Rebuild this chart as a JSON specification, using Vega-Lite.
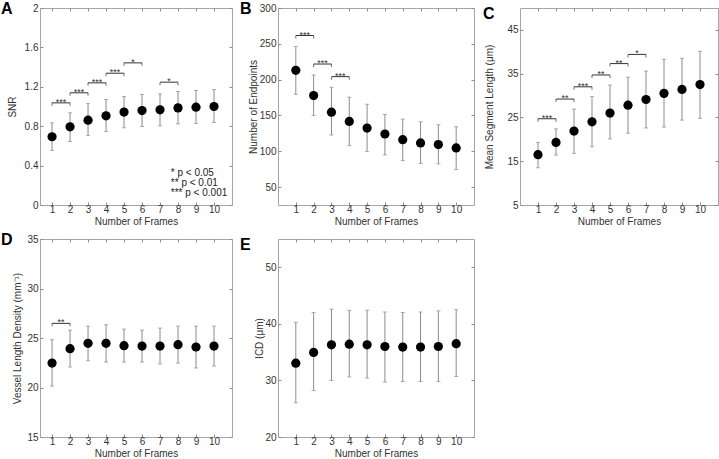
{
  "$schema": "https://vega.github.io/schema/vega-lite/v6.json",
  "padding": 0,
  "background": "white",
  "bounds": "flush",
  "columns": 3,
  "spacing": {"row": 34, "column": 46},
  "config": {
    "font": "Liberation Sans",
    "view": {"stroke": "#a6a6a6", "strokeWidth": 1},
    "axis": {
      "grid": false,
      "domain": false,
      "tickColor": "#8c8c8c",
      "tickSize": -3,
      "labelColor": "#333333",
      "labelFontSize": 10,
      "labelFont": "Liberation Sans",
      "labelPadding": 5,
      "titleFontSize": 10,
      "titleFont": "Liberation Sans",
      "titleFontWeight": "normal",
      "titleColor": "#333333"
    },
    "axisX": {"labelPadding": 2, "titlePadding": 2},
    "title": {"fontSize": 16, "fontWeight": "bold", "color": "#000000", "font": "Liberation Sans", "anchor": "start", "frame": "group", "offset": 0, "baseline": "alphabetic"}
  },
  "datasets": {
    "pts": [
      {"panel": "A", "frames": 1, "mean": 0.693, "lo": 0.554, "hi": 0.834},
      {"panel": "A", "frames": 2, "mean": 0.794, "lo": 0.645, "hi": 0.936},
      {"panel": "A", "frames": 3, "mean": 0.861, "lo": 0.706, "hi": 1.030},
      {"panel": "A", "frames": 4, "mean": 0.905, "lo": 0.747, "hi": 1.071},
      {"panel": "A", "frames": 5, "mean": 0.943, "lo": 0.784, "hi": 1.101},
      {"panel": "A", "frames": 6, "mean": 0.959, "lo": 0.797, "hi": 1.122},
      {"panel": "A", "frames": 7, "mean": 0.966, "lo": 0.804, "hi": 1.128},
      {"panel": "A", "frames": 8, "mean": 0.986, "lo": 0.824, "hi": 1.152},
      {"panel": "A", "frames": 9, "mean": 0.993, "lo": 0.828, "hi": 1.162},
      {"panel": "A", "frames": 10, "mean": 1.000, "lo": 0.838, "hi": 1.172},
      {"panel": "B", "frames": 1, "mean": 213.0, "lo": 179.6, "hi": 246.3},
      {"panel": "B", "frames": 2, "mean": 177.8, "lo": 150.0, "hi": 206.5},
      {"panel": "B", "frames": 3, "mean": 154.6, "lo": 122.7, "hi": 189.4},
      {"panel": "B", "frames": 4, "mean": 141.7, "lo": 107.9, "hi": 175.5},
      {"panel": "B", "frames": 5, "mean": 132.4, "lo": 99.5, "hi": 165.7},
      {"panel": "B", "frames": 6, "mean": 124.1, "lo": 94.9, "hi": 151.4},
      {"panel": "B", "frames": 7, "mean": 116.2, "lo": 87.0, "hi": 144.9},
      {"panel": "B", "frames": 8, "mean": 111.6, "lo": 82.9, "hi": 141.2},
      {"panel": "B", "frames": 9, "mean": 109.3, "lo": 82.4, "hi": 137.0},
      {"panel": "B", "frames": 10, "mean": 104.6, "lo": 74.5, "hi": 134.3},
      {"panel": "C", "frames": 1, "mean": 16.5, "lo": 13.5, "hi": 19.3},
      {"panel": "C", "frames": 2, "mean": 19.3, "lo": 16.4, "hi": 22.4},
      {"panel": "C", "frames": 3, "mean": 21.9, "lo": 16.8, "hi": 26.9},
      {"panel": "C", "frames": 4, "mean": 24.0, "lo": 18.3, "hi": 29.8},
      {"panel": "C", "frames": 5, "mean": 26.0, "lo": 20.1, "hi": 32.4},
      {"panel": "C", "frames": 6, "mean": 27.8, "lo": 21.4, "hi": 34.2},
      {"panel": "C", "frames": 7, "mean": 29.1, "lo": 22.6, "hi": 35.6},
      {"panel": "C", "frames": 8, "mean": 30.5, "lo": 22.8, "hi": 38.3},
      {"panel": "C", "frames": 9, "mean": 31.4, "lo": 24.4, "hi": 38.5},
      {"panel": "C", "frames": 10, "mean": 32.5, "lo": 24.8, "hi": 40.1},
      {"panel": "D", "frames": 1, "mean": 22.47, "lo": 20.15, "hi": 24.83},
      {"panel": "D", "frames": 2, "mean": 23.92, "lo": 22.07, "hi": 25.8},
      {"panel": "D", "frames": 3, "mean": 24.46, "lo": 22.7, "hi": 26.2},
      {"panel": "D", "frames": 4, "mean": 24.46, "lo": 22.57, "hi": 26.34},
      {"panel": "D", "frames": 5, "mean": 24.22, "lo": 22.57, "hi": 25.9},
      {"panel": "D", "frames": 6, "mean": 24.19, "lo": 22.57, "hi": 25.8},
      {"panel": "D", "frames": 7, "mean": 24.19, "lo": 22.37, "hi": 26.0},
      {"panel": "D", "frames": 8, "mean": 24.32, "lo": 22.47, "hi": 26.2},
      {"panel": "D", "frames": 9, "mean": 24.09, "lo": 21.97, "hi": 26.2},
      {"panel": "D", "frames": 10, "mean": 24.19, "lo": 22.17, "hi": 26.2},
      {"panel": "E", "frames": 1, "mean": 33.05, "lo": 26.05, "hi": 40.28},
      {"panel": "E", "frames": 2, "mean": 34.94, "lo": 28.2, "hi": 42.0},
      {"panel": "E", "frames": 3, "mean": 36.3, "lo": 30.0, "hi": 42.6},
      {"panel": "E", "frames": 4, "mean": 36.4, "lo": 30.6, "hi": 42.4},
      {"panel": "E", "frames": 5, "mean": 36.3, "lo": 30.4, "hi": 42.4},
      {"panel": "E", "frames": 6, "mean": 36.0, "lo": 29.7, "hi": 42.1},
      {"panel": "E", "frames": 7, "mean": 35.9, "lo": 29.8, "hi": 42.0},
      {"panel": "E", "frames": 8, "mean": 35.9, "lo": 29.8, "hi": 42.1},
      {"panel": "E", "frames": 9, "mean": 36.0, "lo": 29.8, "hi": 42.3},
      {"panel": "E", "frames": 10, "mean": 36.5, "lo": 30.7, "hi": 42.5}
    ],
    "brackets": [
      {"panel": "A", "x1": 1, "x2": 2, "xm": 1.5, "y": 1.037, "label": "***"},
      {"panel": "A", "x1": 2, "x2": 3, "xm": 2.5, "y": 1.139, "label": "***"},
      {"panel": "A", "x1": 3, "x2": 4, "xm": 3.5, "y": 1.240, "label": "***"},
      {"panel": "A", "x1": 4, "x2": 5, "xm": 4.5, "y": 1.338, "label": "***"},
      {"panel": "A", "x1": 5, "x2": 6, "xm": 5.5, "y": 1.443, "label": "*"},
      {"panel": "A", "x1": 7, "x2": 8, "xm": 7.5, "y": 1.247, "label": "*"},
      {"panel": "B", "x1": 1, "x2": 2, "xm": 1.5, "y": 261.6, "label": "***"},
      {"panel": "B", "x1": 2, "x2": 3, "xm": 2.5, "y": 221.8, "label": "***"},
      {"panel": "B", "x1": 3, "x2": 4, "xm": 3.5, "y": 204.2, "label": "***"},
      {"panel": "C", "x1": 1, "x2": 2, "xm": 1.5, "y": 24.7, "label": "***"},
      {"panel": "C", "x1": 2, "x2": 3, "xm": 2.5, "y": 29.2, "label": "**"},
      {"panel": "C", "x1": 3, "x2": 4, "xm": 3.5, "y": 32.0, "label": "***"},
      {"panel": "C", "x1": 4, "x2": 5, "xm": 4.5, "y": 34.7, "label": "**"},
      {"panel": "C", "x1": 5, "x2": 6, "xm": 5.5, "y": 37.3, "label": "**"},
      {"panel": "C", "x1": 6, "x2": 7, "xm": 6.5, "y": 39.4, "label": "*"},
      {"panel": "D", "x1": 1, "x2": 2, "xm": 1.5, "y": 26.48, "label": "**"}
    ],
    "legendA": [
      {"x": 7.6, "y": 0.328, "text": "* p < 0.05"},
      {"x": 7.6, "y": 0.226, "text": "** p < 0.01"},
      {"x": 7.6, "y": 0.125, "text": "*** p < 0.001"}
    ]
  },
  "concat": [
    {
      "width": 192, "height": 197,
      "title": {"text": "A", "dx": -39, "dy": 18},
      "resolve": {"axis": {"x": "independent", "y": "independent"}},
      "layer": [
        {"data": {"name": "pts"}, "transform": [{"filter": "datum.panel === 'A'"}], "mark": {"type": "rule", "color": "#8c8c8c", "strokeWidth": 1},
         "encoding": {"x": {"field": "frames", "type": "quantitative", "axis": null, "scale": {"domain": [0.33, 11], "nice": false, "zero": false}}, "y": {"field": "lo", "type": "quantitative", "axis": null, "scale": {"domain": [0, 2], "nice": false}}, "y2": {"field": "hi"}}},
        {"data": {"name": "pts"}, "transform": [{"filter": "datum.panel === 'A'"}, {"fold": ["lo", "hi"], "as": ["k", "v"]}], "mark": {"type": "tick", "orient": "horizontal", "color": "#8c8c8c", "size": 4, "thickness": 1},
         "encoding": {"x": {"field": "frames", "type": "quantitative", "axis": null}, "y": {"field": "v", "type": "quantitative", "axis": null}}},
        {"data": {"name": "pts"}, "transform": [{"filter": "datum.panel === 'A'"}], "mark": {"type": "circle", "color": "#000000", "opacity": 1, "size": 85},
         "encoding": {"x": {"field": "frames", "type": "quantitative", "title": "Number of Frames", "axis": {"values": [1,2,3,4,5,6,7,8,9,10]}}, "y": {"field": "mean", "type": "quantitative", "title": "SNR", "axis": {"values": [0, 0.4, 0.8, 1.2, 1.6, 2], "format": "~g", "titlePadding": 7}}}},
        {"data": {"name": "pts"}, "transform": [{"filter": "datum.panel === 'A'"}], "mark": {"type": "point", "opacity": 0},
         "encoding": {"x": {"field": "frames", "type": "quantitative", "axis": {"orient": "top", "labels": false, "title": null, "values": [1,2,3,4,5,6,7,8,9,10]}}, "y": {"field": "mean", "type": "quantitative", "axis": {"orient": "right", "labels": false, "title": null, "values": [0, 0.4, 0.8, 1.2, 1.6, 2]}}}},
        {"data": {"name": "brackets"}, "transform": [{"filter": "datum.panel === 'A'"}], "mark": {"type": "rule", "color": "#333333", "strokeWidth": 1},
         "encoding": {"x": {"field": "x1", "type": "quantitative", "axis": null}, "x2": {"field": "x2"}, "y": {"field": "y", "type": "quantitative", "axis": null}}},
        {"data": {"name": "brackets"}, "transform": [{"filter": "datum.panel === 'A'"}, {"fold": ["x1", "x2"], "as": ["k", "xe"]}], "mark": {"type": "tick", "orient": "vertical", "color": "#333333", "size": 3, "thickness": 1, "yOffset": 1.5},
         "encoding": {"x": {"field": "xe", "type": "quantitative", "axis": null}, "y": {"field": "y", "type": "quantitative", "axis": null}}},
        {"data": {"name": "brackets"}, "transform": [{"filter": "datum.panel === 'A'"}], "mark": {"type": "text", "color": "#333333", "fontSize": 9, "baseline": "alphabetic", "dy": 2},
         "encoding": {"x": {"field": "xm", "type": "quantitative", "axis": null}, "y": {"field": "y", "type": "quantitative", "axis": null}, "text": {"field": "label"}}},
        {"data": {"name": "legendA"}, "mark": {"type": "text", "color": "#222222", "fontSize": 10, "align": "left", "baseline": "middle"},
         "encoding": {"x": {"field": "x", "type": "quantitative", "axis": null}, "y": {"field": "y", "type": "quantitative", "axis": null}, "text": {"field": "text"}}}
      ]
    },
    {
      "width": 196, "height": 197,
      "title": {"text": "B", "dx": -38, "dy": 18},
      "resolve": {"axis": {"x": "independent", "y": "independent"}},
      "layer": [
        {"data": {"name": "pts"}, "transform": [{"filter": "datum.panel === 'B'"}], "mark": {"type": "rule", "color": "#8c8c8c", "strokeWidth": 1},
         "encoding": {"x": {"field": "frames", "type": "quantitative", "axis": null, "scale": {"domain": [0, 11], "nice": false, "zero": false}}, "y": {"field": "lo", "type": "quantitative", "axis": null, "scale": {"domain": [25, 300], "nice": false, "zero": false}}, "y2": {"field": "hi"}}},
        {"data": {"name": "pts"}, "transform": [{"filter": "datum.panel === 'B'"}, {"fold": ["lo", "hi"], "as": ["k", "v"]}], "mark": {"type": "tick", "orient": "horizontal", "color": "#8c8c8c", "size": 4, "thickness": 1},
         "encoding": {"x": {"field": "frames", "type": "quantitative", "axis": null}, "y": {"field": "v", "type": "quantitative", "axis": null}}},
        {"data": {"name": "pts"}, "transform": [{"filter": "datum.panel === 'B'"}], "mark": {"type": "circle", "color": "#000000", "opacity": 1, "size": 85},
         "encoding": {"x": {"field": "frames", "type": "quantitative", "title": "Number of Frames", "axis": {"values": [1,2,3,4,5,6,7,8,9,10]}}, "y": {"field": "mean", "type": "quantitative", "title": "Number of Endpoints", "axis": {"values": [50, 100, 150, 200, 250, 300], "titlePadding": 1}}}},
        {"data": {"name": "pts"}, "transform": [{"filter": "datum.panel === 'B'"}], "mark": {"type": "point", "opacity": 0},
         "encoding": {"x": {"field": "frames", "type": "quantitative", "axis": {"orient": "top", "labels": false, "title": null, "values": [1,2,3,4,5,6,7,8,9,10]}}, "y": {"field": "mean", "type": "quantitative", "axis": {"orient": "right", "labels": false, "title": null, "values": [50, 100, 150, 200, 250, 300]}}}},
        {"data": {"name": "brackets"}, "transform": [{"filter": "datum.panel === 'B'"}], "mark": {"type": "rule", "color": "#333333", "strokeWidth": 1},
         "encoding": {"x": {"field": "x1", "type": "quantitative", "axis": null}, "x2": {"field": "x2"}, "y": {"field": "y", "type": "quantitative", "axis": null}}},
        {"data": {"name": "brackets"}, "transform": [{"filter": "datum.panel === 'B'"}, {"fold": ["x1", "x2"], "as": ["k", "xe"]}], "mark": {"type": "tick", "orient": "vertical", "color": "#333333", "size": 3, "thickness": 1, "yOffset": 1.5},
         "encoding": {"x": {"field": "xe", "type": "quantitative", "axis": null}, "y": {"field": "y", "type": "quantitative", "axis": null}}},
        {"data": {"name": "brackets"}, "transform": [{"filter": "datum.panel === 'B'"}], "mark": {"type": "text", "color": "#333333", "fontSize": 9, "baseline": "alphabetic", "dy": 2},
         "encoding": {"x": {"field": "xm", "type": "quantitative", "axis": null}, "y": {"field": "y", "type": "quantitative", "axis": null}, "text": {"field": "label"}}}
      ]
    },
    {
      "width": 198, "height": 197,
      "title": {"text": "C", "dx": -37, "dy": 18},
      "resolve": {"axis": {"x": "independent", "y": "independent"}},
      "layer": [
        {"data": {"name": "pts"}, "transform": [{"filter": "datum.panel === 'C'"}], "mark": {"type": "rule", "color": "#8c8c8c", "strokeWidth": 1},
         "encoding": {"x": {"field": "frames", "type": "quantitative", "axis": null, "scale": {"domain": [0, 11], "nice": false, "zero": false}}, "y": {"field": "lo", "type": "quantitative", "axis": null, "scale": {"domain": [5, 50], "nice": false, "zero": false}}, "y2": {"field": "hi"}}},
        {"data": {"name": "pts"}, "transform": [{"filter": "datum.panel === 'C'"}, {"fold": ["lo", "hi"], "as": ["k", "v"]}], "mark": {"type": "tick", "orient": "horizontal", "color": "#8c8c8c", "size": 4, "thickness": 1},
         "encoding": {"x": {"field": "frames", "type": "quantitative", "axis": null}, "y": {"field": "v", "type": "quantitative", "axis": null}}},
        {"data": {"name": "pts"}, "transform": [{"filter": "datum.panel === 'C'"}], "mark": {"type": "circle", "color": "#000000", "opacity": 1, "size": 85},
         "encoding": {"x": {"field": "frames", "type": "quantitative", "title": "Number of Frames", "axis": {"values": [1,2,3,4,5,6,7,8,9,10]}}, "y": {"field": "mean", "type": "quantitative", "title": "Mean Segment Length (μm)", "axis": {"values": [5, 15, 25, 35, 45], "titlePadding": 12}}}},
        {"data": {"name": "pts"}, "transform": [{"filter": "datum.panel === 'C'"}], "mark": {"type": "point", "opacity": 0},
         "encoding": {"x": {"field": "frames", "type": "quantitative", "axis": {"orient": "top", "labels": false, "title": null, "values": [1,2,3,4,5,6,7,8,9,10]}}, "y": {"field": "mean", "type": "quantitative", "axis": {"orient": "right", "labels": false, "title": null, "values": [5, 15, 25, 35, 45]}}}},
        {"data": {"name": "brackets"}, "transform": [{"filter": "datum.panel === 'C'"}], "mark": {"type": "rule", "color": "#333333", "strokeWidth": 1},
         "encoding": {"x": {"field": "x1", "type": "quantitative", "axis": null}, "x2": {"field": "x2"}, "y": {"field": "y", "type": "quantitative", "axis": null}}},
        {"data": {"name": "brackets"}, "transform": [{"filter": "datum.panel === 'C'"}, {"fold": ["x1", "x2"], "as": ["k", "xe"]}], "mark": {"type": "tick", "orient": "vertical", "color": "#333333", "size": 3, "thickness": 1, "yOffset": 1.5},
         "encoding": {"x": {"field": "xe", "type": "quantitative", "axis": null}, "y": {"field": "y", "type": "quantitative", "axis": null}}},
        {"data": {"name": "brackets"}, "transform": [{"filter": "datum.panel === 'C'"}], "mark": {"type": "text", "color": "#333333", "fontSize": 9, "baseline": "alphabetic", "dy": 2},
         "encoding": {"x": {"field": "xm", "type": "quantitative", "axis": null}, "y": {"field": "y", "type": "quantitative", "axis": null}, "text": {"field": "label"}}}
      ]
    },
    {
      "width": 192, "height": 198,
      "title": {"text": "D", "dx": -39, "dy": 18},
      "resolve": {"axis": {"x": "independent", "y": "independent"}},
      "layer": [
        {"data": {"name": "pts"}, "transform": [{"filter": "datum.panel === 'D'"}], "mark": {"type": "rule", "color": "#8c8c8c", "strokeWidth": 1},
         "encoding": {"x": {"field": "frames", "type": "quantitative", "axis": null, "scale": {"domain": [0.33, 11], "nice": false, "zero": false}}, "y": {"field": "lo", "type": "quantitative", "axis": null, "scale": {"domain": [15, 35], "nice": false, "zero": false}}, "y2": {"field": "hi"}}},
        {"data": {"name": "pts"}, "transform": [{"filter": "datum.panel === 'D'"}, {"fold": ["lo", "hi"], "as": ["k", "v"]}], "mark": {"type": "tick", "orient": "horizontal", "color": "#8c8c8c", "size": 4, "thickness": 1},
         "encoding": {"x": {"field": "frames", "type": "quantitative", "axis": null}, "y": {"field": "v", "type": "quantitative", "axis": null}}},
        {"data": {"name": "pts"}, "transform": [{"filter": "datum.panel === 'D'"}], "mark": {"type": "circle", "color": "#000000", "opacity": 1, "size": 85},
         "encoding": {"x": {"field": "frames", "type": "quantitative", "title": "Number of Frames", "axis": {"values": [1,2,3,4,5,6,7,8,9,10]}}, "y": {"field": "mean", "type": "quantitative", "title": "Vessel Length Density (mm⁻¹)", "axis": {"values": [15, 20, 25, 30, 35], "titlePadding": 4}}}},
        {"data": {"name": "pts"}, "transform": [{"filter": "datum.panel === 'D'"}], "mark": {"type": "point", "opacity": 0},
         "encoding": {"x": {"field": "frames", "type": "quantitative", "axis": {"orient": "top", "labels": false, "title": null, "values": [1,2,3,4,5,6,7,8,9,10]}}, "y": {"field": "mean", "type": "quantitative", "axis": {"orient": "right", "labels": false, "title": null, "values": [15, 20, 25, 30, 35]}}}},
        {"data": {"name": "brackets"}, "transform": [{"filter": "datum.panel === 'D'"}], "mark": {"type": "rule", "color": "#333333", "strokeWidth": 1},
         "encoding": {"x": {"field": "x1", "type": "quantitative", "axis": null}, "x2": {"field": "x2"}, "y": {"field": "y", "type": "quantitative", "axis": null}}},
        {"data": {"name": "brackets"}, "transform": [{"filter": "datum.panel === 'D'"}, {"fold": ["x1", "x2"], "as": ["k", "xe"]}], "mark": {"type": "tick", "orient": "vertical", "color": "#333333", "size": 3, "thickness": 1, "yOffset": 1.5},
         "encoding": {"x": {"field": "xe", "type": "quantitative", "axis": null}, "y": {"field": "y", "type": "quantitative", "axis": null}}},
        {"data": {"name": "brackets"}, "transform": [{"filter": "datum.panel === 'D'"}], "mark": {"type": "text", "color": "#333333", "fontSize": 9, "baseline": "alphabetic", "dy": 2},
         "encoding": {"x": {"field": "xm", "type": "quantitative", "axis": null}, "y": {"field": "y", "type": "quantitative", "axis": null}, "text": {"field": "label"}}}
      ]
    },
    {
      "width": 196, "height": 198,
      "title": {"text": "E", "dx": -38, "dy": 18},
      "resolve": {"axis": {"x": "independent", "y": "independent"}},
      "layer": [
        {"data": {"name": "pts"}, "transform": [{"filter": "datum.panel === 'E'"}], "mark": {"type": "rule", "color": "#8c8c8c", "strokeWidth": 1},
         "encoding": {"x": {"field": "frames", "type": "quantitative", "axis": null, "scale": {"domain": [0, 11], "nice": false, "zero": false}}, "y": {"field": "lo", "type": "quantitative", "axis": null, "scale": {"domain": [20, 55], "nice": false, "zero": false}}, "y2": {"field": "hi"}}},
        {"data": {"name": "pts"}, "transform": [{"filter": "datum.panel === 'E'"}, {"fold": ["lo", "hi"], "as": ["k", "v"]}], "mark": {"type": "tick", "orient": "horizontal", "color": "#8c8c8c", "size": 4, "thickness": 1},
         "encoding": {"x": {"field": "frames", "type": "quantitative", "axis": null}, "y": {"field": "v", "type": "quantitative", "axis": null}}},
        {"data": {"name": "pts"}, "transform": [{"filter": "datum.panel === 'E'"}], "mark": {"type": "circle", "color": "#000000", "opacity": 1, "size": 85},
         "encoding": {"x": {"field": "frames", "type": "quantitative", "title": "Number of Frames", "axis": {"values": [1,2,3,4,5,6,7,8,9,10]}}, "y": {"field": "mean", "type": "quantitative", "title": "ICD (μm)", "axis": {"values": [20, 30, 40, 50], "titlePadding": 0}}}},
        {"data": {"name": "pts"}, "transform": [{"filter": "datum.panel === 'E'"}], "mark": {"type": "point", "opacity": 0},
         "encoding": {"x": {"field": "frames", "type": "quantitative", "axis": {"orient": "top", "labels": false, "title": null, "values": [1,2,3,4,5,6,7,8,9,10]}}, "y": {"field": "mean", "type": "quantitative", "axis": {"orient": "right", "labels": false, "title": null, "values": [20, 30, 40, 50]}}}}
      ]
    }
  ]
}
